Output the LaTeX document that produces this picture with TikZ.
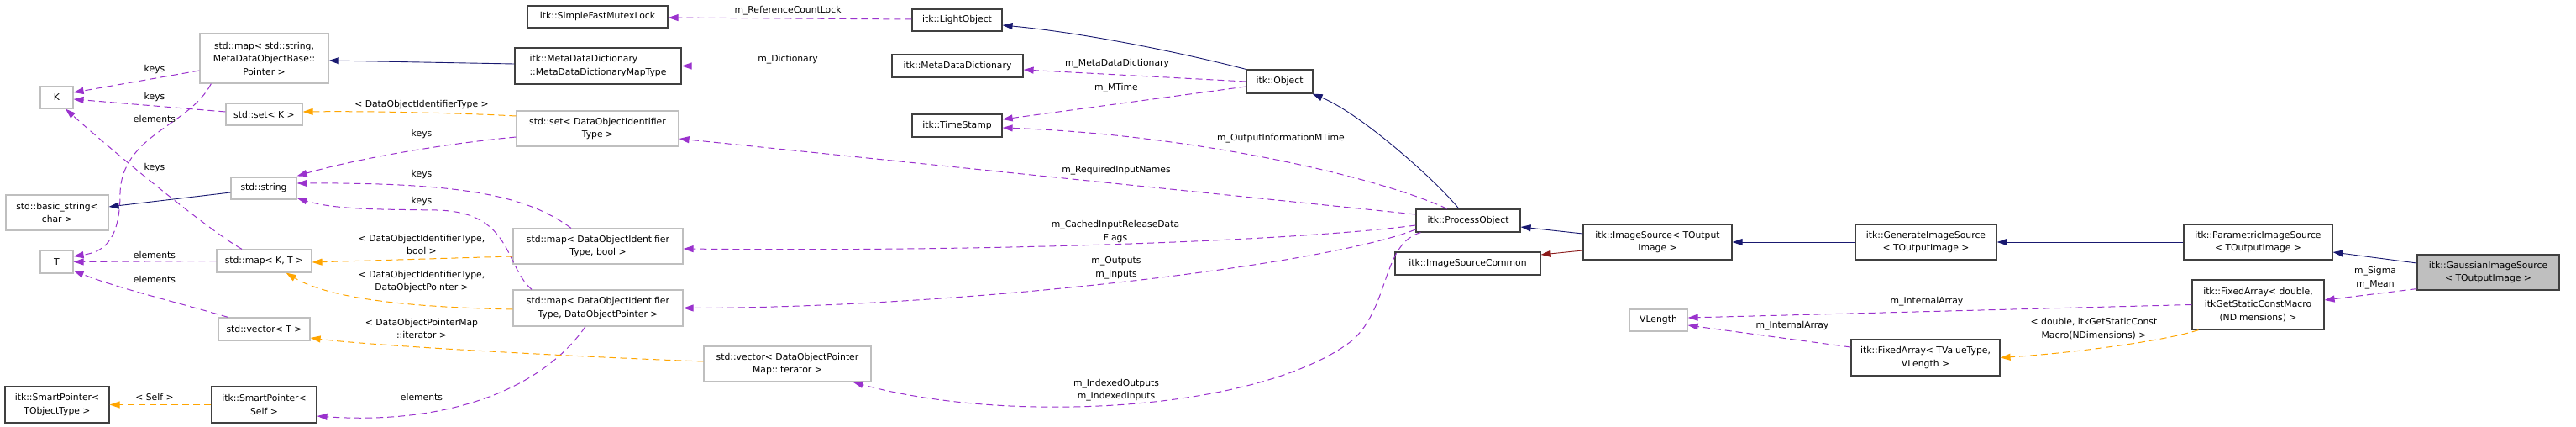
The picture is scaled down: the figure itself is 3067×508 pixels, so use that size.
\documentclass[tikz,border=0pt]{standalone}
\usepackage{fontspec}
\setmainfont{DejaVu Sans}
\usetikzlibrary{arrows.meta}
\definecolor{mblue}{HTML}{191970}
\definecolor{dorch}{HTML}{9A32CD}
\definecolor{dorange}{HTML}{FFA500}
\definecolor{fbrick}{HTML}{8B1A1A}
\definecolor{grayline}{HTML}{BFBFBF}
\definecolor{darkline}{HTML}{404040}
\definecolor{gfill}{HTML}{BFBFBF}
\begin{document}
\begin{tikzpicture}[x=1pt,y=-1pt,
 every node/.style={font=\fontsize{10.8}{15.5}\selectfont, inner sep=0pt},
 gbox/.style={draw=grayline, line width=1.2pt, fill=white, align=center},
 bbox/.style={draw=darkline, line width=1.2pt, fill=white, align=center},
 lbl/.style={align=center},
 tip/.style={-{Triangle[length=12pt,width=8pt]}},
 inh/.style={tip, color=mblue, line width=0.9pt},
 priv/.style={tip, color=fbrick, line width=0.9pt},
 use/.style={tip, color=dorch, line width=1pt, dash pattern=on 8pt off 5pt},
 tmpl/.style={tip, color=dorange, line width=1pt, dash pattern=on 8pt off 5pt},
]
\useasboundingbox (0,0) rectangle (3067,508);

% ---------- nodes ----------
\node[gbox, minimum width=153pt, minimum height=59pt] (smapstr) at (314.5,69.5) {std::map< std::string,\\ MetaDataObjectBase::\\ Pointer >};
\node[gbox, minimum width=39pt, minimum height=26pt] (K) at (67.5,116) {K};
\node[gbox, minimum width=91pt, minimum height=26pt] (setK) at (314.5,136) {std::set< K >};
\node[gbox, minimum width=78pt, minimum height=26pt] (str) at (314,224) {std::string};
\node[gbox, minimum width=122pt, minimum height=42pt] (bstr) at (68,253) {std::basic\_string<\\ char >};
\node[gbox, minimum width=39pt, minimum height=27pt] (T) at (67.5,311.5) {T};
\node[gbox, minimum width=113pt, minimum height=27pt] (mapKT) at (314.5,310.5) {std::map< K, T >};
\node[gbox, minimum width=109pt, minimum height=27pt] (vecT) at (314.5,391.5) {std::vector< T >};
\node[bbox, minimum width=124pt, minimum height=43pt] (spTO) at (68,481.5) {itk::SmartPointer<\\ TObjectType >};
\node[bbox, minimum width=125pt, minimum height=43pt] (spSelf) at (314.5,481.5) {itk::SmartPointer<\\ Self >};
\node[bbox, minimum width=167pt, minimum height=26pt] (mutex) at (711.5,20) {itk::SimpleFastMutexLock};
\node[bbox, minimum width=198pt, minimum height=43pt, align=left] (mdmap) at (712,78.5) {itk::MetaDataDictionary\\::MetaDataDictionaryMapType};
\node[gbox, minimum width=193pt, minimum height=42pt] (setDOI) at (711.5,153) {std::set< DataObjectIdentifier\\ Type >};
\node[gbox, minimum width=202pt, minimum height=42pt] (mapBool) at (712,293) {std::map< DataObjectIdentifier\\ Type, bool >};
\node[gbox, minimum width=202pt, minimum height=43pt] (mapDOP) at (712,366.5) {std::map< DataObjectIdentifier\\ Type, DataObjectPointer >};
\node[gbox, minimum width=199pt, minimum height=42pt] (vecDOP) at (937.5,433) {std::vector< DataObjectPointer\\ Map::iterator >};
\node[bbox, minimum width=107pt, minimum height=26pt] (light) at (1139.5,24) {itk::LightObject};
\node[bbox, minimum width=156pt, minimum height=27pt] (mdd) at (1140,78.5) {itk::MetaDataDictionary};
\node[bbox, minimum width=107pt, minimum height=27pt] (ts) at (1139.5,149.5) {itk::TimeStamp};
\node[bbox, minimum width=79pt, minimum height=28pt] (obj) at (1523.5,97) {itk::Object};
\node[bbox, minimum width=124pt, minimum height=27pt] (po) at (1748,262.5) {itk::ProcessObject};
\node[bbox, minimum width=173pt, minimum height=27pt] (isc) at (1747.5,313.5) {itk::ImageSourceCommon};
\node[bbox, minimum width=177pt, minimum height=42pt] (is) at (1973.5,288) {itk::ImageSource< TOutput\\ Image >};
\node[gbox, minimum width=69pt, minimum height=26pt] (vlen) at (1974.5,381) {VLength};
\node[bbox, minimum width=168pt, minimum height=42pt] (gis) at (2293,288) {itk::GenerateImageSource\\ < TOutputImage >};
\node[bbox, minimum width=177pt, minimum height=43pt] (fatv) at (2292.5,425.5) {itk::FixedArray< TValueType,\\ VLength >};
\node[bbox, minimum width=177pt, minimum height=42pt] (pis) at (2688.5,288) {itk::ParametricImageSource\\ < TOutputImage >};
\node[bbox, minimum width=157pt, minimum height=59pt] (fad) at (2688.5,362.5) {itk::FixedArray< double,\\ itkGetStaticConstMacro\\ (NDimensions) >};
\node[bbox, fill=gfill, minimum width=169pt, minimum height=42pt] (gauss) at (2962.5,324) {itk::GaussianImageSource\\ < TOutputImage >};

% ---------- labels ----------
\node[lbl] (lRef) at (938,13) {m\_ReferenceCountLock};
\node[lbl] (lDict) at (938,71) {m\_Dictionary};
\node[lbl] (lMDD) at (1330,76) {m\_MetaDataDictionary};
\node[lbl] (lMT) at (1329,105) {m\_MTime};
\node[lbl] (lOIM) at (1525,165) {m\_OutputInformationMTime};
\node[lbl] (lRIN) at (1329,203) {m\_RequiredInputNames};
\node[lbl] (lCIR) at (1328,275.5) {m\_CachedInputReleaseData\\Flags};
\node[lbl] (lOI) at (1329,319) {m\_Outputs\\m\_Inputs};
\node[lbl] (lIdx) at (1329,464) {m\_IndexedOutputs\\m\_IndexedInputs};
\node[lbl] (lIA1) at (2294,359) {m\_InternalArray};
\node[lbl] (lIA2) at (2134,388) {m\_InternalArray};
\node[lbl] (lSM) at (2828,330.5) {m\_Sigma\\m\_Mean};
\node[lbl] (lDbl) at (2493,391) {< double, itkGetStaticConst\\Macro(NDimensions) >};
\node[lbl] (lk1) at (184,83) {keys};
\node[lbl] (lk2) at (184,116) {keys};
\node[lbl] (le1) at (184,141) {elements};
\node[lbl] (lk3) at (184,200) {keys};
\node[lbl] (le2) at (184,303) {elements};
\node[lbl] (le3) at (184,332) {elements};
\node[lbl] (lself) at (184,472) {< Self >};
\node[lbl] (lDOIT) at (502,125) {< DataObjectIdentifierType >};
\node[lbl] (lk4) at (502,160) {keys};
\node[lbl] (lk5) at (502,208) {keys};
\node[lbl] (lk6) at (502,240) {keys};
\node[lbl] (lDB) at (502,291) {< DataObjectIdentifierType,\\bool >};
\node[lbl] (lDP) at (502,335) {< DataObjectIdentifierType,\\DataObjectPointer >};
\node[lbl] (lIt) at (502,391) {< DataObjectPointerMap\\::iterator >};
\node[lbl] (le4) at (502,472) {elements};

% ---------- inheritance ----------
\draw[inh] ([yshift=2.5pt]mdmap.west) -- ([yshift=-2.5pt]smapstr.east);
\draw[inh] (obj.north west) .. controls (1420,66) and (1300,40) .. ([yshift=-6pt]light.east);
\draw[inh] ([xshift=-11pt]po.north) .. controls (1710,215) and (1620,135) .. ([xshift=-1pt]obj.south east);
\draw[inh] ([yshift=-5pt]str.west) -- ([yshift=7pt]bstr.east);
\draw[inh] ([yshift=10pt]is.west) -- ([yshift=-7.5pt]po.east);
\draw[inh] (gis.west) -- (is.east);
\draw[inh] (pis.west) -- (gis.east);
\draw[inh] ([yshift=11pt]gauss.west) -- ([yshift=-12pt]pis.east);
\draw[priv] ([yshift=-10pt]is.west) -- ([yshift=10.5pt]isc.east);

% ---------- usage (purple) ----------
\draw[use] ([yshift=1pt]light.west) -- ([yshift=-1pt]mutex.east);
\draw[use] (mdd.west) -- (mdmap.east);
\draw[use] (obj.west) -- ([yshift=-4.5pt]mdd.east);
\draw[use] ([yshift=-6pt]obj.west) -- ([yshift=7.5pt]ts.east);
\draw[use] ([xshift=-25pt]po.north) .. controls (1640,210) and (1420,160) .. ([yshift=-2.5pt]ts.east);
\draw[use] ([yshift=7.5pt]po.west) -- ([yshift=-12pt]setDOI.east);
\draw[use] ([yshift=-5.5pt]po.west) .. controls (1560,285) and (1200,300) .. ([yshift=-3pt]mapBool.east);
\draw[use] ([yshift=-10.5pt]po.west) .. controls (1580,315) and (1150,366) .. (mapDOP.east);
\draw[use] ([xshift=6pt]po.south west) .. controls (1645,290) and (1655,365) .. (1610,405) .. controls (1500,490) and (1200,505) .. ([xshift=-22pt]vecDOP.south east);
\draw[use] ([yshift=12.5pt]fatv.west) -- ([yshift=-6pt]vlen.east);
\draw[use] (fad.west) -- ([yshift=3pt]vlen.east);
\draw[use] ([yshift=2pt]gauss.south west) -- ([yshift=5.5pt]fad.east);

% ---------- keys / elements ----------
\draw[use] ([yshift=-14.5pt]smapstr.west) -- ([yshift=6pt]K.east);
\draw[use] ([yshift=3pt]setK.west) -- ([yshift=-2pt]K.east);
\draw[use] ([xshift=14pt]smapstr.south west) .. controls (225,150) and (145,160) .. (143,230) .. controls (143,290) and (120,300) .. ([yshift=6.5pt]T.east);
\draw[use] ([xshift=-26.5pt]mapKT.north) .. controls (250,275) and (140,185) .. ([xshift=10.5pt]K.south);
\draw[use] (mapKT.west) -- (T.east);
\draw[use] ([xshift=12pt]vecT.north west) .. controls (220,362) and (140,343) .. ([yshift=-10.5pt]T.east);
\draw[use] ([yshift=-10pt]setDOI.west) .. controls (520,172) and (420,190) .. ([yshift=1pt]str.north east);
\draw[use] ([xshift=-32pt]mapBool.north) .. controls (630,235) and (560,217) .. ([yshift=6pt]str.east);
\draw[use] ([xshift=-79pt]mapDOP.north) .. controls (600,315) and (610,252) .. (520,250) .. controls (460,249) and (400,250) .. ([yshift=2pt]str.south east);
\draw[use] ([xshift=-15pt]mapDOP.south) .. controls (640,470) and (520,505) .. ([yshift=-13.5pt]spSelf.east);

% ---------- template instances (orange) ----------
\draw[tmpl] ([yshift=15pt]setDOI.west) .. controls (560,135) and (450,132) .. ([yshift=3pt]setK.east);
\draw[tmpl] ([yshift=-12pt]mapBool.west) -- ([yshift=-1.5pt]mapKT.east);
\draw[tmpl] ([yshift=-1.5pt]mapDOP.west) .. controls (520,366) and (400,360) .. ([xshift=-31pt]mapKT.south east);
\draw[tmpl] ([yshift=3pt]vecDOP.west) .. controls (700,425) and (450,412) .. ([yshift=-10.5pt]vecT.east);
\draw[tmpl] (spSelf.west) -- (spTO.east);
\draw[tmpl] ([xshift=8pt]fad.south west) .. controls (2580,405) and (2470,420) .. (fatv.east);
\end{tikzpicture}
\end{document}
